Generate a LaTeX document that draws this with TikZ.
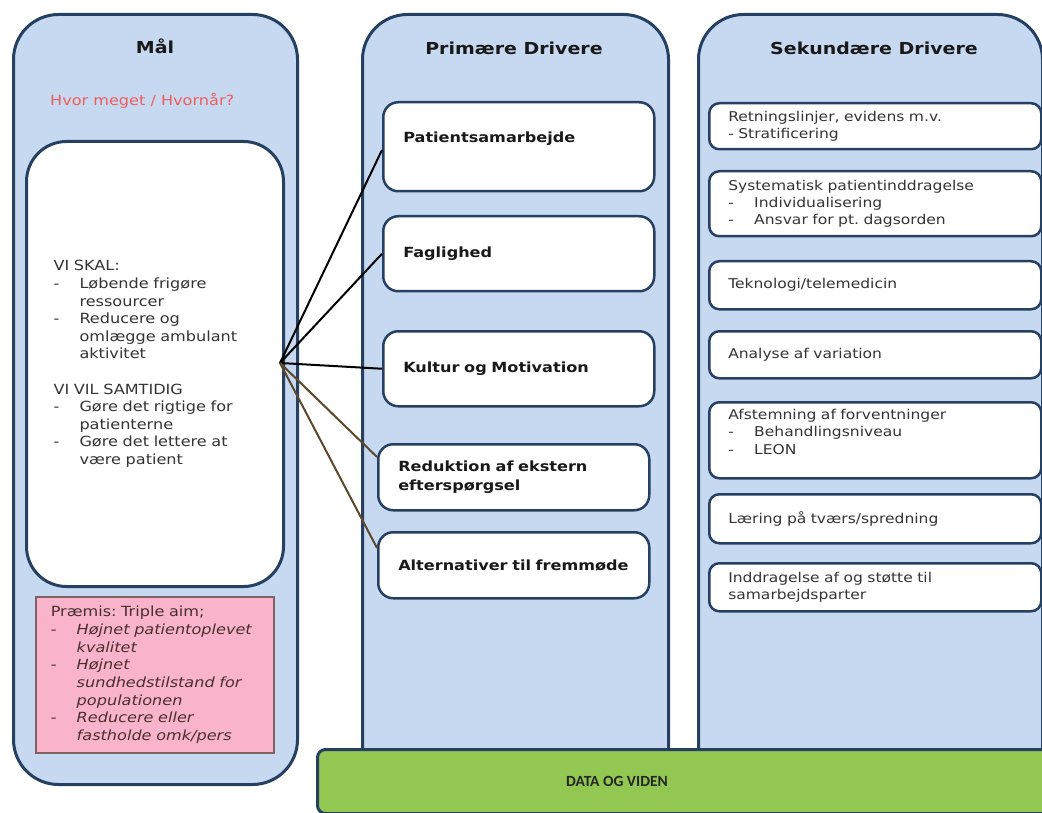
\documentclass[tikz,border=0pt]{standalone}
\usepackage{fontspec}
\setmainfont{DejaVu Sans}[FakeStretch=1.15]
\newfontfamily\datafont{Carlito}
\usetikzlibrary{positioning}
\frenchspacing

\definecolor{panelblue}{RGB}{198,217,240}
\definecolor{edgeblue}{RGB}{37,64,97}
\definecolor{goalred}{RGB}{240,92,92}
\definecolor{premisepink}{RGB}{249,180,203}
\definecolor{premiseedge}{RGB}{128,98,98}
\definecolor{datagreen}{RGB}{146,200,82}
\definecolor{fanbrown}{RGB}{92,72,44}
\definecolor{bodygray}{RGB}{52,52,52}

\newcommand{\dsh}{\makebox[26pt][l]{-}}
\newcommand{\hng}{\hspace*{26pt}}

\begin{document}
\begin{tikzpicture}[x=1pt,y=-1pt,
	panel/.style={draw=edgeblue, line width=3pt, fill=panelblue, rounded corners=45pt, anchor=north west, inner sep=0pt},
	coltitle/.style={font=\bfseries\fontsize{16.5}{20}\selectfont, text=black!90},
	goalbox/.style={draw=edgeblue, line width=3pt, fill=white, rounded corners=40pt, anchor=north west, align=left, inner xsep=27pt, inner ysep=0pt, text width=203pt, font=\fontsize{14}{17.6}\selectfont, text=bodygray},
	premise/.style={draw=premiseedge, line width=1.5pt, fill=premisepink, anchor=north west, align=left, inner xsep=15pt, inner ysep=0pt, text width=208pt, font=\fontsize{14}{17.7}\selectfont, text=bodygray!90!red},
	primbox/.style={draw=edgeblue, line width=2.5pt, fill=white, rounded corners=15pt, anchor=north west, align=left, inner xsep=20pt, inner ysep=0pt, text width=231pt, font=\bfseries\fontsize{14}{19}\selectfont, text=black!90},
	secbox/.style={draw=edgeblue, line width=2.5pt, fill=white, rounded corners=10pt, anchor=north west, align=left, inner xsep=19pt, inner ysep=0pt, text width=294pt, font=\fontsize{13.5}{17.3}\selectfont, text=bodygray},
	fanline/.style={line width=2pt}
	]
	\clip (0,0) rectangle (1042,813);
	
	% columns
	\node[panel, minimum width=284pt, minimum height=770pt] (mal) at (12,13) {};
	\node[panel, minimum width=306pt, minimum height=787pt] (prim) at (361,13) {};
	\node[panel, minimum width=344pt, minimum height=787pt] (sek) at (697,13) {};
	
	\node[coltitle] (maltitle) at (155,46) {Mål};
	\node[coltitle] (primtitle) at (514,48) {Primære Drivere};
	\node[coltitle] (sektitle) at (874,48) {Sekundære Drivere};
	\node[anchor=west, inner sep=0pt, text=goalred, font=\fontsize{14}{17}\selectfont] (hvor) at (50,101) {Hvor meget / Hvornår?};
	
	% goal
	\node[goalbox, minimum width=257pt, minimum height=445pt] (skal) at (25,140) {VI SKAL:\\
		\dsh Løbende frigøre\\ \hng ressourcer\\
		\dsh Reducere og\\ \hng omlægge ambulant\\ \hng aktivitet\\[17.6pt]
		VI VIL SAMTIDIG\\
		\dsh Gøre det rigtige for\\ \hng patienterne\\
		\dsh Gøre det lettere at\\ \hng være patient};
	
	\node[premise, minimum width=238pt, minimum height=156pt] (premis) at (35,596) {Præmis: Triple aim;\\
		\dsh\textit{Højnet patientoplevet}\\ \hng\textit{kvalitet}\\
		\dsh\textit{Højnet}\\ \hng\textit{sundhedstilstand for}\\ \hng\textit{populationen}\\
		\dsh\textit{Reducere eller}\\ \hng\textit{fastholde omk/pers}};
	
	% primary drivers
	\node[primbox, minimum height=89pt] (patsam) at (382,101) {Patientsamarbejde\\ \mbox{}};
	\node[primbox, minimum height=75pt] (fag) at (382,215) {Faglighed};
	\node[primbox, minimum height=75pt] (kultur) at (382,330) {Kultur og Motivation};
	\node[primbox, minimum height=66pt] (reduk) at (377,443) {Reduktion af ekstern\\ efterspørgsel};
	\node[primbox, minimum height=66pt] (altern) at (377,531) {Alternativer til fremmøde};
	
	% secondary drivers
	\node[secbox, minimum height=46pt] (retn) at (708,102) {Retningslinjer, evidens m.v.\\ - Stratificering};
	\node[secbox, minimum height=65pt] (sysp) at (708,170) {Systematisk patientinddragelse\\ \dsh Individualisering\\ \dsh Ansvar for pt. dagsorden};
	\node[secbox, minimum height=48pt] (tekn) at (708,260) {Teknologi/telemedicin};
	\node[secbox, minimum height=47pt] (analyse) at (708,330) {Analyse af variation};
	\node[secbox, minimum height=76pt] (afst) at (708,401) {Afstemning af forventninger\\ \dsh Behandlingsniveau\\ \dsh LEON\\ \mbox{}};
	\node[secbox, minimum height=49pt] (laer) at (708,493) {Læring på tværs/spredning};
	\node[secbox, minimum height=48pt] (inddr) at (708,562) {Inddragelse af og støtte til\\ samarbejdsparter};
	
	% data bar
	\node[draw=edgeblue, line width=3pt, fill=datagreen, rounded corners=8pt, anchor=north west, minimum width=760pt, minimum height=64pt] (data) at (316,748) {};
	\node[font=\datafont\bfseries\fontsize{15.5}{18}\selectfont, text=black!85] (datatext) at (617,781) {DATA OG VIDEN};
	
	% connectors
	\coordinate (fan) at (280,363);
	\draw[fanline] (fan) -- ([yshift=-49pt]patsam.north west);
	\draw[fanline] (fan) -- (fag.west);
	\draw[fanline] (fan) -- (kultur.west);
	\draw[fanline, color=fanbrown] (fan) -- ([yshift=-14pt]reduk.north west);
	\draw[fanline, color=fanbrown] (fan) -- ([yshift=-17pt]altern.north west);
\end{tikzpicture}
\end{document}
